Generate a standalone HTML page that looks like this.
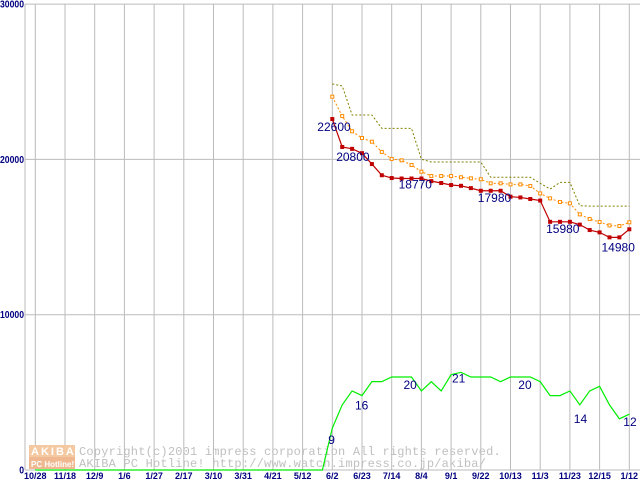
<!DOCTYPE html>
<html><head><meta charset="utf-8"><style>
body{margin:0;background:#fff;width:640px;height:480px;overflow:hidden}
svg{display:block}
text{font-family:"Liberation Sans",sans-serif}
</style></head><body>
<svg id="chart" width="640" height="480" xmlns="http://www.w3.org/2000/svg">
<g id="grid"></g>
<g id="wm">
<rect x="29" y="445" width="46" height="12" fill="#f4c8a0"/>
<rect x="29" y="457" width="46" height="12" fill="#f0b890"/>
<text x="31" y="455" font-size="11" font-weight="bold" fill="#fff" letter-spacing="2">AKIBA</text>
<text x="31" y="467" font-size="8" font-weight="bold" fill="#fff">PC Hotline!</text>
<text x="79" y="455" font-size="12" fill="#c0c0c0" letter-spacing="0.2" style="font-family:'Liberation Mono',monospace">Copyright(c)2001 impress corporation All rights reserved.</text>
<text x="79" y="467" font-size="12" fill="#c0c0c0" letter-spacing="0.2" style="font-family:'Liberation Mono',monospace">AKIBA PC Hotline!  http://www.watch.impress.co.jp/akiba/</text>
</g>
<g id="series"></g>
<g id="labels"></g>
</svg>
<script>
const xLabels=["10/28","11/18","12/9","1/6","1/27","2/17","3/10","3/31","4/21","5/12","6/2","6/23","7/14","8/4","9/1","9/22","10/13","11/3","11/23","12/15","1/12"];
const yTicks=[0,10000,20000,30000];
const startWeek=30;
const minPrice=[22600,20800,20680,20400,19700,18980,18800,18770,18770,18770,18600,18480,18350,18300,18150,17980,17980,17980,17600,17550,17450,17350,15980,15980,15980,15800,15450,15300,14980,14980,15500];
const avgPrice=[24040,22790,21810,21380,21140,20480,20030,19940,19640,19210,18930,18930,18930,18850,18780,18720,18460,18460,18390,18390,18290,17810,17490,17260,17170,16460,16160,15970,15750,15710,15950];
const maxPrice=[24860,24730,22860,22860,22860,22000,22000,22000,22000,20010,19830,19830,19830,19830,19830,19830,18850,18850,18850,18850,18850,18460,18090,18520,18520,17020,16990,16990,16990,16990,16990];
const shopCount=[9,14,17,16,19,19,20,20,20,17,19,17,20.5,21,20,20,20,19,20,20,20,19,16,16,17,14,17,18,14,11,12];
const priceLabels=[[0,"22600"],[1,"20800"],[7,"18770"],[15,"17980"],[22,"15980"],[28,"14980"]];
const countLabels=[[0,"9"],[3,"16"],[8,"20"],[13,"21"],[20,"20"],[25,"14"],[30,"12"]];
const NS="http://www.w3.org/2000/svg";
const X=w=>35.3+w*9.9;
const Y=v=>470-v*0.01553;
const YC=c=>470-c*4.65;
function mk(tag,at,parent){const e=document.createElementNS(NS,tag);for(const k in at)e.setAttribute(k,at[k]);parent.appendChild(e);return e;}
const grid=document.getElementById('grid'),ser=document.getElementById('series'),lab=document.getElementById('labels');
let l=mk('line',{x1:25,y1:4,x2:25,y2:470,stroke:'#bbb'},grid);


yTicks.forEach(v=>{
 const g=mk('line',{x1:25,x2:640,y1:Y(v),y2:Y(v),stroke:'#bbb'},grid);
 
 
 const s=String(v);
 const t=mk('text',{x:24,y:Y(v)+3.5,'font-size':10,'font-weight':'bold',fill:'#000080','text-anchor':'end',textLength:s.length*4.8,lengthAdjust:'spacingAndGlyphs'},grid);
 t.textContent=s;
 
 
});
xLabels.forEach((s,i)=>{
 const x=X(i*3);
 const g=mk('line',{x1:x,x2:x,y1:4,y2:470,stroke:'#bbb'},grid);
 
 
 const t=mk('text',{x:x,y:479,'font-size':9,'font-weight':'bold',fill:'#000080','text-anchor':'middle'},grid);
 t.textContent=s;
 
 
});
function pts(arr,fy){return arr.map((v,i)=>X(startWeek+i)+','+fy(v)).join(' ');}
let cp=X(0)+','+YC(0)+' '+X(startWeek-1)+','+YC(0)+' '+pts(shopCount,YC);
let p=mk('polyline',{points:cp,fill:'none',stroke:'#00ee00','stroke-width':1.2},ser);


p=mk('polyline',{points:pts(maxPrice,Y),fill:'none',stroke:'#808000','stroke-dasharray':'2,2'},ser);


p=mk('polyline',{points:pts(avgPrice,Y),fill:'none',stroke:'#ff8c00','stroke-dasharray':'2,2'},ser);


avgPrice.forEach((v,i)=>{
 const r=mk('rect',{x:X(startWeek+i)-1.5,y:Y(v)-1.5,width:3,height:3,fill:'#fff',stroke:'#ff8c00','stroke-width':1},ser);
 
 
});
p=mk('polyline',{points:pts(minPrice,Y),fill:'none',stroke:'#c00000','stroke-width':1.2},ser);


minPrice.forEach((v,i)=>{
 const r=mk('rect',{x:X(startWeek+i)-2,y:Y(v)-2,width:4,height:4,fill:'#c00000'},ser);
 
 
});
const pOff={0:[-15,12],1:[-6,14],7:[-3,10],15:[-3,11],22:[-4,11],28:[-8,14]};
priceLabels.forEach(([i,s])=>{
 const o=pOff[i];
 const t=mk('text',{x:X(startWeek+i)+o[0],y:Y(minPrice[i])+o[1],'font-size':12,fill:'#000080'},lab);
 t.textContent=s;
 
 
});
const cOff={0:[-4,16],3:[-7,14],8:[-8,12],13:[-9,10],20:[-12,12],25:[-6,18],30:[-6,12]};
countLabels.forEach(([i,s])=>{
 const o=cOff[i];
 const t=mk('text',{x:X(startWeek+i)+o[0],y:YC(shopCount[i])+o[1],'font-size':12,fill:'#000080'},lab);
 t.textContent=s;
 
 
});
</script>
</body></html>
